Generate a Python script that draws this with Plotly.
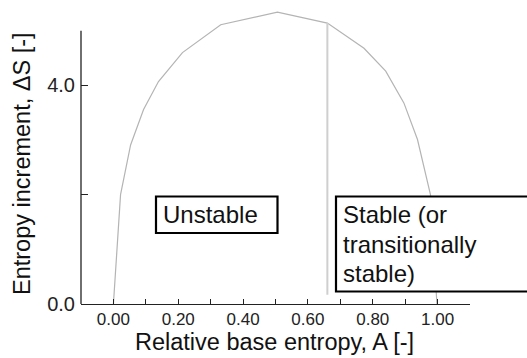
import plotly.graph_objects as go

# Data
A_vals = [0.0, 0.022, 0.053, 0.093, 0.139, 0.213, 0.331, 0.506, 0.660, 0.773, 0.840, 0.896, 0.938, 0.969, 0.978, 0.998]
dS_vals = [0.0, 2.0, 2.91, 3.56, 4.07, 4.60, 5.11, 5.34, 5.14, 4.68, 4.26, 3.68, 3.01, 2.27, 2.0, 0.0]
boundary_A = [0.66, 0.66]
boundary_dS = [0.17, 5.14]

x_tickvals = [0.0, 0.2, 0.4, 0.6, 0.8, 1.0]
x_ticktext = ["0.00", "0.20", "0.40", "0.60", "0.80", "1.00"]
y_tickvals = [0, 2, 4]
y_ticktext = ["0.0", "", "4.0"]

FONT = "Liberation Sans, Arial, sans-serif"

fig = go.Figure()
fig.add_trace(go.Scatter(x=A_vals, y=dS_vals, mode="lines",
                         line=dict(color="#b4b4b4", width=1.2), showlegend=False))
fig.add_trace(go.Scatter(x=boundary_A, y=boundary_dS, mode="lines",
                         line=dict(color="#cfcfcf", width=2), showlegend=False))

W, H = 527, 358
ml, mr, mt, mb = 81, 57, 6, 54
pw = W - ml - mr
ph = H - mt - mb

def px_x(p):
    return (p - ml) / pw

def px_y(p):
    return (H - mb - p) / ph

fig.update_layout(
    template="none",
    width=W, height=H,
    margin=dict(l=ml, r=mr, t=mt, b=mb, pad=0),
    paper_bgcolor="white", plot_bgcolor="white",
    font=dict(family=FONT, color="#111111"),
    xaxis=dict(range=[-0.1, 1.1], showgrid=False, zeroline=False, automargin=False,
               showline=True, linecolor="#222222", linewidth=1.3,
               tickmode="array", tickvals=x_tickvals, ticktext=x_ticktext,
               ticks="inside", ticklen=5, tickcolor="#222222", tickwidth=1,
               tickfont=dict(size=17, family=FONT, color="#222222"),
               ticklabelstandoff=-1,
               minor=dict(dtick=0.1, tick0=0, ticks="inside", ticklen=5,
                          tickcolor="#222222", tickwidth=1, showgrid=False)),
    yaxis=dict(range=[0, ph / 54.65], showgrid=False, zeroline=False, automargin=False,
               showline=False,
               tickmode="array", tickvals=y_tickvals, ticktext=y_ticktext,
               ticks="inside", ticklen=7, tickcolor="#222222", tickwidth=1,
               tickfont=dict(size=20, family=FONT, color="#222222"),
               ticklabelstandoff=5),
)

# y axis line only up to 5.0
fig.add_shape(type="line", xref="paper", yref="y", x0=0, x1=0, y0=0, y1=5.0,
              line=dict(color="#222222", width=1.3))

# Boxes
fig.add_shape(type="rect", xref="paper", yref="paper",
              x0=px_x(156), x1=px_x(277.5), y0=px_y(233), y1=px_y(196.5),
              line=dict(color="black", width=2.2), fillcolor="white", layer="above")
fig.add_shape(type="rect", xref="paper", yref="paper",
              x0=px_x(336), x1=px_x(560), y0=px_y(291.5), y1=px_y(196.5),
              line=dict(color="black", width=2.2), fillcolor="white", layer="above")

def label(text, xpix, ypix_mid, size=24):
    fig.add_annotation(text=text, xref="paper", yref="paper",
                       x=px_x(xpix), y=px_y(ypix_mid), xanchor="left", yanchor="middle",
                       showarrow=False, font=dict(size=size, family=FONT, color="#111111"))

label("Unstable", 161, 214.5)
label("Stable (or", 341, 214.5)
label("transitionally", 341, 244)
label("stable)", 341, 273.5)

# Axis titles
fig.add_annotation(text="Relative base entropy, A [-]", xref="paper", yref="paper",
                   x=px_x(274), y=px_y(342), xanchor="center", yanchor="middle",
                   showarrow=False, font=dict(size=23.5, family=FONT, color="#111111"))
fig.add_annotation(text="Entropy increment, \u0394S [-]", xref="paper", yref="paper",
                   x=px_x(22), y=px_y(164), xanchor="center", yanchor="middle",
                   textangle=-90, showarrow=False,
                   font=dict(size=23.5, family=FONT, color="#111111"))

fig.write_html("out.html", config={"displayModeBar": False},
               post_script="document.body.style.margin='0';document.body.style.overflow='hidden';")
